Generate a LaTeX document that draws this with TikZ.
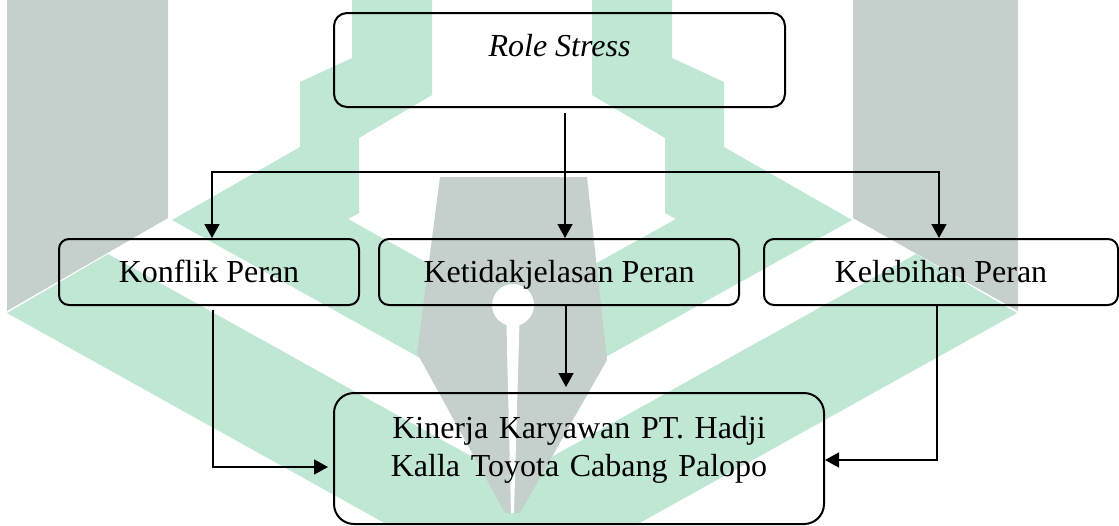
\documentclass[tikz,border=0pt]{standalone}
\usepackage{fontspec}
\setmainfont{Liberation Serif}
\usetikzlibrary{arrows.meta}

\definecolor{wmgreen}{RGB}{192,230,212}
\definecolor{wmgray}{RGB}{197,207,203}

\tikzset{
    box/.style={draw=black, line width=1pt, rounded corners=5pt, anchor=north,
        inner xsep=0pt, inner ysep=0pt, font=\fontsize{16}{19}\selectfont},
    arr/.style={line width=0.8pt, -{Triangle[length=7pt,width=7.5pt]}}
}

\begin{document}
\begin{tikzpicture}[x=0.5pt, y=-0.5pt]
    \useasboundingbox (0,0) rectangle (1119,525);

    % watermark in the background
    \fill[wmgray] (7,0) -- (168,0) -- (168,218) -- (7,311) -- cycle;
    \fill[wmgray] (853,0) -- (1018,0) -- (1018,311) -- (853,218) -- cycle;
    % inner chevron
    \fill[wmgreen] (352,0) -- (352,58) -- (300,82) -- (300,147) -- (172,220)
        -- (512,409) -- (852,220) -- (724,147) -- (724,82) -- (672,58)
        -- (672,0) -- (592,0) -- (592,95) -- (665,138) -- (665,213)
        -- (676,219) -- (512,310) -- (348,219) -- (359,213) -- (359,138)
        -- (432,95) -- (432,0) -- cycle;
    % outer V
    \fill[wmgreen] (7,313) -- (108,254) -- (512,479) -- (916,254) -- (1017,313)
        -- (636,525) -- (388,525) -- cycle;
    % pen
    \fill[wmgray] (440,177) -- (587,177) -- (607,360) -- (520,513) -- (505,513)
        -- (417,353) -- cycle;
    \fill[white] (513,305) circle[radius=21];
    \fill[white] (506,305) -- (520,305) -- (514,513) -- (511,513) -- cycle;

    % boxes
    \node[box, rounded corners=6.5pt, minimum width=225.5pt, text height=21.5pt,
        text depth=25.5pt] (role) at (559.5,12) {\textit{Role Stress}};

    \node[box, minimum width=150pt, text height=21.5pt, text depth=11.5pt]
        (konflik) at (209,238) {Konflik Peran};
    \node[box, minimum width=180pt, text height=21.5pt, text depth=11.5pt]
        (ketidak) at (559,238) {Ketidakjelasan Peran};
    \node[box, minimum width=177pt, text height=21.5pt, text depth=11.5pt]
        (kelebihan) at (941,238) {Kelebihan Peran};

    \node[box, rounded corners=10pt, text width=245pt, align=center,
        text height=22.5pt, text depth=43pt] (kinerja) at (579,392)
        {Kinerja Karyawan PT. Hadji\\Kalla Toyota Cabang Palopo};

    % arrows
    \coordinate (bar) at ([xshift=2.75pt, yshift=-32pt]role.south);
    \draw[arr, shorten <=2.5pt] ([xshift=2.75pt]role.south)
        -- ([xshift=2.75pt]role.south |- ketidak.north);
    \draw[arr] (bar) -| ([xshift=1.5pt]konflik.north);
    \draw[arr] (bar) -| ([xshift=-1pt]kelebihan.north);

    \draw[arr, shorten >=2.5pt] ([xshift=3.5pt]ketidak.south)
        -- ([xshift=3.5pt]ketidak.south |- kinerja.north);
    \draw[arr, shorten <=2pt, shorten >=2.5pt] ([xshift=2pt]konflik.south)
        |- ([yshift=-4.25pt]kinerja.west);
    \draw[arr] ([xshift=-2pt]kelebihan.south) |- ([yshift=-0.75pt]kinerja.east);

\end{tikzpicture}
\end{document}
